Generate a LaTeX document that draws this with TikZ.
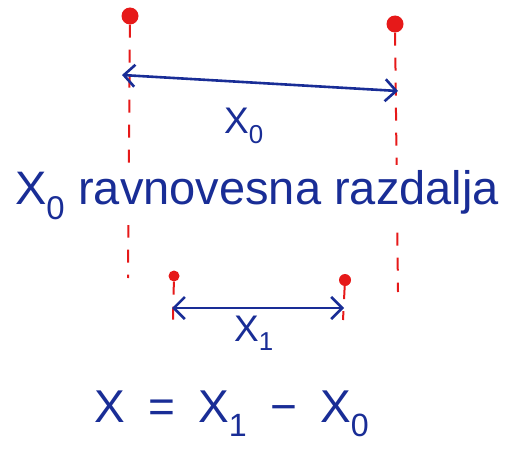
\documentclass[tikz,border=0pt]{standalone}
\usepackage{fontspec}
\setmainfont{Liberation Sans}
\usetikzlibrary{arrows.meta}
\definecolor{inkblue}{RGB}{25,45,150}
\definecolor{inkred}{RGB}{230,25,25}
\tikzset{
  ball/.style={circle, fill=inkred, inner sep=0pt, minimum size=#1},
  guide/.style={inkred, line width=2pt, dash pattern=on 13pt off 12pt},
  distarrow/.style={<->, inkblue, line width=2.6pt},
  inktext/.style={inkblue, inner sep=1pt, font=\fontsize{#1}{#1}\selectfont},
}
\begin{document}
\begin{tikzpicture}[x=1pt, y=-1pt, >={Straight Barb[length=11pt,width=22pt]}]
  \useasboundingbox (0,0) rectangle (516,452);
  % equilibrium positions
  \node[ball=17pt] (left0) at (130,16) {};
  \node[ball=17pt] (right0) at (395,24) {};
  \coordinate (left0end) at (128,278);
  \coordinate (right0end) at (398,292);
  \draw[guide] (left0) -- (left0end);
  \draw[guide] (right0) -- (right0end);
  \coordinate (arr0a) at (122,75);
  \coordinate (arr0b) at (398,91);
  \draw[distarrow] (arr0a) -- (arr0b);
  \node[inktext=37] (lab0) at (244,126) {X\textsubscript{0}};
  \node[inktext=47, fill=white, inner sep=6pt] (caption) at (257,195) {X\textsubscript{0} ravnovesna razdalja};
  % displaced positions
  \node[ball=11pt] (left1) at (174,276) {};
  \node[ball=12pt] (right1) at (345,280) {};
  \coordinate (left1end) at (173,320);
  \coordinate (right1end) at (343,320);
  \draw[guide] (left1) -- (left1end);
  \draw[guide] (right1) -- (right1end);
  \coordinate (arr1a) at (172,308);
  \coordinate (arr1b) at (344,308);
  \draw[distarrow] (arr1a) -- (arr1b);
  \node[inktext=37] (lab1) at (254,333) {X\textsubscript{1}};
  % difference
  \node[inktext=46] (eq) at (232,414) {X\hspace{0.5em}=\hspace{0.5em}X\textsubscript{1}\hspace{0.5em}−\hspace{0.5em}X\textsubscript{0}};
\end{tikzpicture}
\end{document}
